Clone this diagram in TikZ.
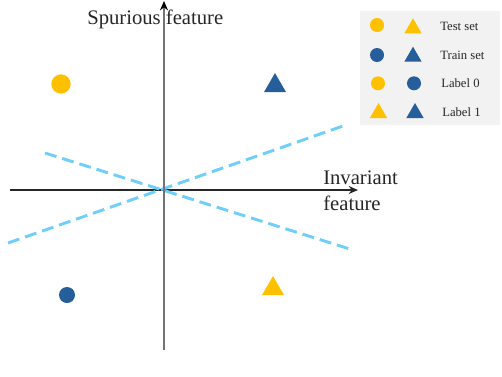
\documentclass[tikz,border=0pt]{standalone}
\usepackage{fontspec}
\setmainfont{Liberation Serif}
\usetikzlibrary{arrows.meta,shapes.geometric,positioning}
\definecolor{gold}{HTML}{FFC000}
\definecolor{navy}{HTML}{255E9A}
\definecolor{sky}{HTML}{6FCFFA}
\definecolor{legendbg}{HTML}{F2F2F2}

\begin{document}
\begin{tikzpicture}[x=0.75pt,y=-0.75pt,>=Stealth,
  dot/.style={circle,fill=#1,inner sep=0pt,minimum size=10.5pt},
  tri/.style={regular polygon,regular polygon sides=3,fill=#1,inner sep=0pt,minimum size=15pt},
  boundary/.style={sky,line width=2.2pt,dash pattern=on 9pt off 4.5pt},
  axislabel/.style={inner sep=0pt,font=\fontsize{15.5}{19.5}\selectfont,text=black!85},
  legendtext/.style={anchor=west,inner sep=0pt,font=\fontsize{9.5}{11}\selectfont,text=black!85}]
  \useasboundingbox (0,0) rectangle (502,376);
  % axes and decision boundaries
  \coordinate (O) at (164,190);
  \draw[black!85,line width=0.8pt,-{Stealth[length=7pt,width=6pt]}] (10,190)--(358,190) coordinate (xend);
  \coordinate (b1s) at (45,153);
  \coordinate (b1e) at (353,250);
  \coordinate (b2s) at (8,243);
  \coordinate (b2e) at (343,126);
  \draw[boundary] (b1s)--(b1e);
  \draw[boundary] (b2s)--(b2e);
  \draw[black!55,line width=1.1pt,-{Stealth[length=7pt,width=6pt,black]}] (164,350)--(164,1) coordinate (yend);
  \node[axislabel,anchor=base west] (ylabel) at (87,24) {Spurious feature};
  \node[axislabel,anchor=north west,align=left] (xlabel) at (323,171) {Invariant\\feature};
  % samples
  \node[dot=gold,minimum size=14.5pt] (testA) at (61,84) {};
  \node[tri=navy,minimum size=19pt] (trainB) at (275,85.7) {};
  \node[dot=navy,minimum size=12pt] (trainA) at (67,295) {};
  \node[tri=gold,minimum size=19pt] (testB) at (273,288.7) {};
  % legend
  \fill[legendbg] (360,11) rectangle (500,125);
  \node[dot=gold] (lg1a) at (377,25) {};
  \node[tri=gold] (lg1b) at (413,28.3) {};
  \node[legendtext] (lt1) at (440,26) {Test set};
  \node[dot=navy] (lg2a) at (377,55) {};
  \node[tri=navy] (lg2b) at (413,56.7) {};
  \node[legendtext] (lt2) at (440,55) {Train set};
  \node[dot=gold] (lg3a) at (378,83.3) {};
  \node[dot=navy] (lg3b) at (414,83.3) {};
  \node[legendtext] (lt3) at (441,83.5) {Label 0};
  \node[tri=gold] (lg4a) at (378.5,113) {};
  \node[tri=navy] (lg4b) at (415,113) {};
  \node[legendtext] (lt4) at (442,112) {Label 1};
\end{tikzpicture}
\end{document}
